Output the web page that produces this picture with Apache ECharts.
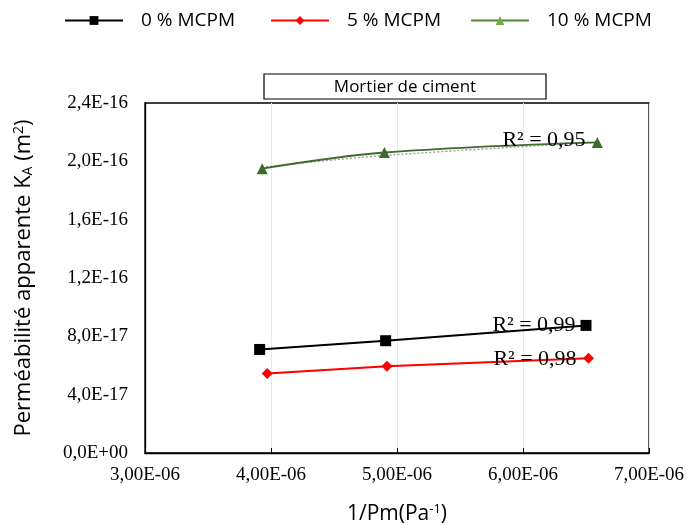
<!DOCTYPE html>
<html><head><meta charset="utf-8">
<script src="https://cdn.jsdelivr.net/npm/echarts@6/dist/echarts.min.js"></script>
<style>html,body{margin:0;padding:0;background:#fff}#c{width:687px;height:525px}</style>
</head><body><div id="c"></div>
<script>
// x in 1/Pm (Pa^-1), y in permeability (m^2)
const seriesNames = ['0 % MCPM', '5 % MCPM', '10 % MCPM'];
const x0 = [3.91e-6, 4.91e-6, 6.50e-6];
const y0 = [7.10e-17, 7.70e-17, 8.75e-17];
const x5 = [3.97e-6, 4.92e-6, 6.52e-6];
const y5 = [5.45e-17, 5.95e-17, 6.50e-17];
const x10 = [3.93e-6, 4.90e-6, 6.59e-6];
const y10 = [1.95e-16, 2.06e-16, 2.13e-16];
// trendline (dotted) for 10 %
const xt10 = [3.93e-6, 4.90e-6, 6.59e-6];
const yt10 = [1.96e-16, 2.04e-16, 2.13e-16];
const r2Labels = ['R² = 0,99', 'R² = 0,98', 'R² = 0,95'];
const xTicks = [3e-6, 4e-6, 5e-6, 6e-6, 7e-6];
const yTicks = [0, 4e-17, 8e-17, 1.2e-16, 1.6e-16, 2.0e-16, 2.4e-16];

const XS = 1e6, YS = 1e16;
const pts = (xs, ys) => xs.map((v, i) => [v * XS, ys[i] * YS]);

function fmtY(v) {
  const val = v / YS;
  if (val === 0) return '0,0E+00';
  let e = Math.floor(Math.log10(val) + 1e-9);
  let m = val / Math.pow(10, e);
  return m.toFixed(1).replace('.', ',') + 'E-' + String(-e).padStart(2, '0');
}
function fmtX(v) {
  const val = v / XS;
  let e = Math.floor(Math.log10(val) + 1e-9);
  let m = val / Math.pow(10, e);
  return m.toFixed(2).replace('.', ',') + 'E-' + String(-e).padStart(2, '0');
}

const serif = 'Liberation Serif';
const sans = 'Open Sans';
const chart = echarts.init(document.getElementById('c'));
const legendBase = {itemWidth: 58, itemHeight: 11, top: 6,
  textStyle: {fontFamily: sans, fontSize: 19, color: '#000', padding: [0, 0, 0, 13]}};
chart.setOption({
  animation: false,
  grid: {left: 145, right: 38, top: 103, bottom: 72, outerBoundsMode: 'none', containLabel: false,
    show: true, borderColor: '#000', borderWidth: 1.3},
  legend: [
    Object.assign({data: [{name: seriesNames[0]}], left: 59}, legendBase),
    Object.assign({data: [{name: seriesNames[1]}], left: 265}, legendBase),
    Object.assign({data: [{name: seriesNames[2], itemStyle: {color: '#70ad47'}, lineStyle: {color: '#548235'}}], left: 465}, legendBase)
  ],
  xAxis: {
    type: 'value', min: xTicks[0] * XS, max: xTicks[xTicks.length - 1] * XS, interval: 1,
    axisLine: {lineStyle: {color: '#000', width: 1.3}},
    axisTick: {inside: true, length: 5, lineStyle: {color: '#000'}},
    splitLine: {show: true, lineStyle: {color: '#e8e8e8'}},
    axisLabel: {formatter: fmtX, fontFamily: serif, fontSize: 19, color: '#000', margin: 13},
    name: '1/Pm(Pa{s|-1})', nameLocation: 'middle', nameGap: 50,
    nameTextStyle: {fontFamily: sans, fontSize: 21, color: '#000', rich: {s: {fontFamily: sans, fontSize: 13, verticalAlign: 'top', padding: [0, 0, 9, 0]}}}
  },
  yAxis: {
    type: 'value', min: 0, max: yTicks[yTicks.length - 1] * YS, interval: 0.4,
    axisLine: {show: true, lineStyle: {color: '#000', width: 1.3}},
    axisTick: {show: false},
    splitLine: {show: false},
    axisLabel: {formatter: fmtY, fontFamily: serif, fontSize: 19, color: '#000', margin: 17},
    name: 'Perméabilité apparente K{a|A} (m{s|2})', nameLocation: 'middle', nameGap: 110,
    nameTextStyle: {fontFamily: sans, fontSize: 22, color: '#000',
      rich: {a: {fontFamily: sans, fontSize: 14, padding: [9, 0, 0, 0]}, s: {fontFamily: sans, fontSize: 14, padding: [0, 0, 9, 0]}}}
  },
  series: [
    {name: seriesNames[0], type: 'line', data: pts(x0, y0), symbol: 'rect', symbolSize: 11,
      lineStyle: {color: '#000', width: 2}, itemStyle: {color: '#000'}},
    {name: seriesNames[1], type: 'line', data: pts(x5, y5), symbol: 'diamond', symbolSize: 11,
      lineStyle: {color: '#ff0000', width: 2}, itemStyle: {color: '#ff0000'}},
    {name: seriesNames[2], type: 'line', data: pts(x10, y10), symbol: 'triangle', symbolSize: 11, smooth: 0.35,
      lineStyle: {color: '#3d6b2c', width: 2}, itemStyle: {color: '#3d6b2c'}},
    {name: 'trend10', type: 'line', data: pts(xt10, yt10), symbol: 'none', smooth: 0.35,
      lineStyle: {color: '#999', width: 1.3, type: [2, 2]}, z: 1},
    {name: 'trend0', type: 'line', data: pts(x0, y0), symbol: 'none',
      lineStyle: {color: '#777', width: 1, type: [2, 2]}, z: 1},
    {name: 'trend5', type: 'line', data: pts(x5, y5), symbol: 'none',
      lineStyle: {color: '#ffa060', width: 1, type: [2, 2]}, z: 1}
  ],
  graphic: [
    {type: 'rect', shape: {x: 264, y: 74, width: 282, height: 25}, style: {fill: '#fff', stroke: '#000', lineWidth: 1.2}},
    {type: 'text', x: 405, y: 87, style: {text: 'Mortier de ciment', font: '17px "Open Sans"', fill: '#000', align: 'center', verticalAlign: 'middle'}},
    {type: 'text', x: 534, y: 325, z: 10, style: {text: r2Labels[0], font: '22px "Liberation Serif"', fill: '#000', align: 'center', verticalAlign: 'middle'}},
    {type: 'text', x: 535, y: 359, z: 10, style: {text: r2Labels[1], font: '22px "Liberation Serif"', fill: '#000', align: 'center', verticalAlign: 'middle'}},
    {type: 'text', x: 544, y: 140, z: 10, style: {text: r2Labels[2], font: '22px "Liberation Serif"', fill: '#000', align: 'center', verticalAlign: 'middle'}}
  ]
});
</script></body></html>
